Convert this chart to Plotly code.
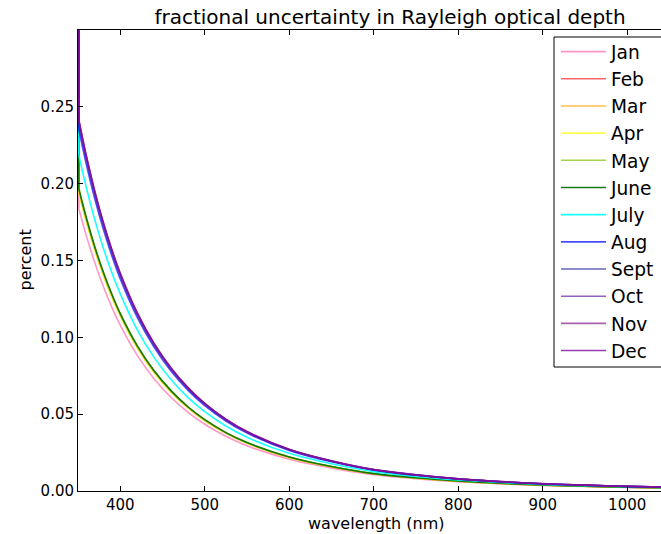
import plotly.graph_objects as go

wavelength = [350.5, 351, 355, 360, 370, 380, 390, 400, 420, 440, 460, 480, 500,
              525, 550, 600, 650, 700, 750, 800, 850, 900, 950, 1000, 1040]

jan = [0.60, 0.1838, 0.1755, 0.1658, 0.1483, 0.1330, 0.1196, 0.1079, 0.0884, 0.0731, 0.0610, 0.0513, 0.0434,
       0.0356, 0.0294, 0.0206, 0.0149, 0.0106, 0.0080, 0.0060, 0.0047, 0.0036, 0.0029, 0.0023, 0.0020]
feb = [0.60, 0.1947, 0.1859, 0.1756, 0.1570, 0.1409, 0.1267, 0.1143, 0.0936, 0.0774, 0.0646, 0.0543, 0.0460,
       0.0377, 0.0312, 0.0218, 0.0158, 0.0112, 0.0085, 0.0064, 0.0049, 0.0038, 0.0031, 0.0025, 0.0021]
mar = [0.60, 0.1957, 0.1869, 0.1765, 0.1578, 0.1416, 0.1274, 0.1148, 0.0941, 0.0778, 0.0649, 0.0546, 0.0462,
       0.0379, 0.0313, 0.0220, 0.0158, 0.0113, 0.0085, 0.0064, 0.0050, 0.0039, 0.0031, 0.0025, 0.0021]
apr = [0.60, 0.1937, 0.1850, 0.1747, 0.1563, 0.1401, 0.1260, 0.1137, 0.0932, 0.0770, 0.0643, 0.0540, 0.0457,
       0.0375, 0.0310, 0.0217, 0.0157, 0.0112, 0.0084, 0.0064, 0.0049, 0.0038, 0.0030, 0.0025, 0.0021]
may = [0.60, 0.1967, 0.1878, 0.1774, 0.1586, 0.1423, 0.1280, 0.1154, 0.0946, 0.0782, 0.0653, 0.0548, 0.0464,
       0.0380, 0.0315, 0.0221, 0.0159, 0.0113, 0.0086, 0.0065, 0.0050, 0.0039, 0.0031, 0.0025, 0.0021]
june = [0.60, 0.1967, 0.1878, 0.1774, 0.1586, 0.1423, 0.1280, 0.1154, 0.0946, 0.0782, 0.0653, 0.0548, 0.0464,
        0.0380, 0.0315, 0.0221, 0.0159, 0.0113, 0.0086, 0.0065, 0.0050, 0.0039, 0.0031, 0.0025, 0.0021]
july = [0.60, 0.2184, 0.2086, 0.1970, 0.1762, 0.1580, 0.1421, 0.1282, 0.1050, 0.0869, 0.0725, 0.0609, 0.0516,
        0.0423, 0.0350, 0.0245, 0.0177, 0.0126, 0.0095, 0.0072, 0.0055, 0.0043, 0.0034, 0.0028, 0.0023]
aug = [0.60, 0.2352, 0.2246, 0.2122, 0.1897, 0.1702, 0.1531, 0.1380, 0.1131, 0.0936, 0.0780, 0.0656, 0.0555,
       0.0455, 0.0377, 0.0264, 0.0190, 0.0136, 0.0102, 0.0077, 0.0060, 0.0046, 0.0037, 0.0030, 0.0025]
sept = [0.60, 0.2392, 0.2284, 0.2157, 0.1929, 0.1730, 0.1556, 0.1404, 0.1150, 0.0951, 0.0794, 0.0667, 0.0565,
        0.0463, 0.0383, 0.0268, 0.0194, 0.0138, 0.0104, 0.0079, 0.0060, 0.0047, 0.0038, 0.0030, 0.0025]
oct_ = [0.60, 0.2407, 0.2298, 0.2171, 0.1941, 0.1741, 0.1566, 0.1412, 0.1157, 0.0957, 0.0798, 0.0671, 0.0568,
        0.0466, 0.0385, 0.0270, 0.0195, 0.0139, 0.0105, 0.0079, 0.0061, 0.0047, 0.0038, 0.0030, 0.0026]
nov = [0.60, 0.2407, 0.2298, 0.2171, 0.1941, 0.1741, 0.1566, 0.1412, 0.1157, 0.0957, 0.0798, 0.0671, 0.0568,
       0.0466, 0.0385, 0.0270, 0.0195, 0.0139, 0.0105, 0.0079, 0.0061, 0.0047, 0.0038, 0.0030, 0.0026]
dec = [0.60, 0.2417, 0.2308, 0.2179, 0.1949, 0.1748, 0.1572, 0.1418, 0.1162, 0.0961, 0.0802, 0.0674, 0.0570,
       0.0467, 0.0387, 0.0271, 0.0196, 0.0139, 0.0105, 0.0079, 0.0061, 0.0048, 0.0038, 0.0031, 0.0026]

months = ["Jan", "Feb", "Mar", "Apr", "May", "June", "July", "Aug", "Sept", "Oct", "Nov", "Dec"]
series = [jan, feb, mar, apr, may, june, july, aug, sept, oct_, nov, dec]
colors = ["rgba(255,105,180,0.7)", "rgba(255,0,0,0.6)", "rgba(255,165,0,0.7)", "rgba(255,255,0,0.7)",
          "rgba(154,205,50,0.9)", "rgba(0,110,0,0.9)", "rgba(0,255,255,0.9)", "rgba(0,0,255,0.7)",
          "rgba(0,0,139,0.6)", "rgba(100,30,160,0.7)", "rgba(130,30,140,0.7)", "rgba(130,10,160,0.8)"]

x_ticks = [400, 500, 600, 700, 800, 900, 1000]
y_ticks = [0.00, 0.05, 0.10, 0.15, 0.20, 0.25]

FONT = "DejaVu Sans"
PW, PH, L, T = 583, 461, 78, 30

fig = go.Figure()
for name, vals, col in zip(months, series, colors):
    # steep rise at the short-wavelength edge (straight segment)
    fig.add_trace(go.Scatter(x=wavelength[:2], y=vals[:2], mode="lines", showlegend=False,
                             hoverinfo="skip", line=dict(color=col, width=1.6)))
    fig.add_trace(go.Scatter(x=wavelength[1:], y=vals[1:], mode="lines", name=name,
                             line=dict(color=col, width=1.6, shape="spline", smoothing=0.8)))

fig.update_layout(
    width=661, height=534,
    margin=dict(l=L, r=0, t=T, b=43, autoexpand=False),
    plot_bgcolor="white", paper_bgcolor="white",
    font=dict(family=FONT, size=15, color="black"),
    title=dict(text="fractional uncertainty in Rayleigh optical depth", x=(390 - L) / PW, xref="paper",
               xanchor="center", y=1 - 17 / 534, yanchor="middle",
               font=dict(size=20, family=FONT, color="black")),
    showlegend=True,
    legend=dict(x=(556 - L) / PW, y=(491 - 33) / PH, xanchor="left", yanchor="top",
                borderwidth=0, bgcolor="rgba(0,0,0,0)",
                font=dict(size=18.6, family=FONT, color="black"), itemwidth=45),
    shapes=[dict(type="rect", xref="paper", yref="paper",
                 x0=(554 - L) / PW, x1=(680 - L) / PW, y0=(491 - 367) / PH, y1=(491 - 37) / PH,
                 line=dict(color="black", width=1), fillcolor="white", layer="above")],
    xaxis=dict(range=[350, 1040], tickvals=x_ticks, ticktext=[str(v) for v in x_ticks],
               ticks="inside", ticklen=5, tickcolor="black", showline=True, linecolor="black",
               linewidth=1, mirror="ticks", showgrid=False, zeroline=False,
               tickfont=dict(size=15, family=FONT)),
    yaxis=dict(range=[0, 0.2999], tickvals=y_ticks, ticktext=["%.2f" % v for v in y_ticks],
               ticks="inside", ticklen=5, tickcolor="black", showline=True, linecolor="black",
               linewidth=1, mirror=False, showgrid=False, zeroline=False,
               tickfont=dict(size=15, family=FONT)),
    annotations=[
        dict(text="wavelength (nm)", xref="paper", yref="paper", x=(376 - L) / PW, y=-(523 - 491) / PH,
             showarrow=False, xanchor="center", yanchor="middle", font=dict(size=16, family=FONT)),
        dict(text="percent", xref="paper", yref="paper", x=-(L - 25) / PW, y=0.5, textangle=-90,
             showarrow=False, xanchor="center", yanchor="middle", font=dict(size=16, family=FONT)),
    ],
)

fig.write_html("out.html")
